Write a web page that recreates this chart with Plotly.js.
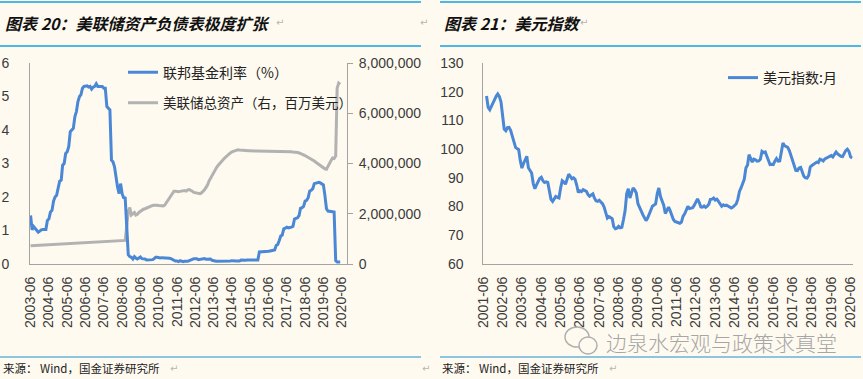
<!DOCTYPE html>
<html>
<head>
<meta charset="utf-8">
<script src="https://cdn.plot.ly/plotly-3.0.1.min.js"></script>
<style>html,body{margin:0;padding:0;background:#fffaf0;}#chart{width:863px;height:379px;}</style>
</head>
<body>
<div id="chart"></div>
<script>
// ---------- Data ----------
// Left chart: monthly, starting 2003-06
const fedStart = [2003, 6];
const fedFundsRate = [
  1.45, 1.02, 1.12, 1.05, 1.00, 0.95, 0.98,
  1.02, 1.03, 1.02, 1.03, 1.30, 1.35, 1.55, 1.60, 1.88, 2.00, 2.05, 2.25,
  2.47, 2.50, 2.95, 3.00, 3.30, 3.35, 3.50, 3.95, 4.00, 4.05, 4.40, 4.55,
  4.85, 5.00, 5.05, 5.25, 5.30, 5.30, 5.32, 5.28, 5.30, 5.22, 5.28, 5.30,
  5.38, 5.30, 5.30, 5.28, 5.30, 5.25, 5.25, 4.70, 4.65, 4.60, 3.10, 3.05,
  2.90, 2.50, 2.30, 2.10, 2.40, 2.10, 1.98, 1.97, 1.20, 0.28, 0.22, 0.20,
  0.15, 0.22, 0.18, 0.15, 0.18, 0.21, 0.16, 0.16, 0.15, 0.12, 0.12, 0.12,
  0.11, 0.13, 0.16, 0.20, 0.20, 0.18, 0.18, 0.19, 0.19, 0.19, 0.19, 0.18,
  0.17, 0.16, 0.14, 0.10, 0.09, 0.09, 0.07, 0.10, 0.08, 0.07, 0.08, 0.07,
  0.08, 0.10, 0.13, 0.14, 0.16, 0.16, 0.16, 0.13, 0.14, 0.16, 0.16, 0.16,
  0.14, 0.15, 0.14, 0.15, 0.11, 0.09, 0.09, 0.08, 0.08, 0.09, 0.08, 0.09,
  0.07, 0.07, 0.08, 0.09, 0.09, 0.10, 0.09, 0.09, 0.09, 0.09, 0.09, 0.12,
  0.11, 0.11, 0.11, 0.12, 0.12, 0.13, 0.13, 0.14, 0.14, 0.12, 0.12, 0.36,
  0.36, 0.38, 0.36, 0.37, 0.37, 0.38, 0.39, 0.40, 0.40, 0.42, 0.55, 0.58,
  0.70, 0.84, 0.86, 1.05, 1.07, 1.10, 1.08, 1.08, 1.10, 1.12, 1.34, 1.36,
  1.38, 1.45, 1.66, 1.68, 1.72, 1.88, 1.90, 1.98, 2.18, 2.20, 2.25, 2.40,
  2.42, 2.42, 2.44, 2.42, 2.40, 2.36, 2.05, 1.65, 1.58, 1.58, 1.57, 1.56,
  1.55, 0.10, 0.06, 0.05, 0.06
];
const fedTotalAssets = [
  730000, 733000, 736000, 740000, 744000, 748000, 752000,
  755000, 758000, 762000, 766000, 770000, 774000, 778000, 782000, 786000, 790000, 794000, 798000,
  801000, 804000, 807000, 810000, 813000, 816000, 819000, 822000, 825000, 828000, 832000, 836000,
  839000, 842000, 845000, 848000, 851000, 854000, 857000, 860000, 863000, 866000, 869000, 872000,
  875000, 878000, 881000, 884000, 887000, 890000, 893000, 896000, 899000, 902000, 905000, 910000,
  915000, 918000, 921000, 925000, 930000, 935000, 938000, 940000, 1500000, 2100000, 2250000, 1950000,
  2000000, 2050000, 1950000, 1980000, 2050000, 2100000, 2150000, 2180000, 2200000, 2230000, 2260000, 2300000,
  2320000, 2330000, 2340000, 2350000, 2340000, 2330000, 2320000, 2300000, 2310000, 2350000, 2450000, 2550000,
  2650000, 2750000, 2850000, 2900000, 2900000, 2880000, 2880000, 2890000, 2900000, 2920000, 2920000, 2900000,
  2950000, 2960000, 2940000, 2900000, 2850000, 2840000, 2830000, 2810000, 2800000, 2830000, 2880000, 2950000,
  3050000, 3150000, 3300000, 3420000, 3550000, 3650000, 3760000, 3850000, 3930000, 4010000, 4080000, 4150000,
  4210000, 4260000, 4320000, 4370000, 4420000, 4460000, 4490000, 4520000, 4540000, 4550000, 4540000, 4530000,
  4530000, 4520000, 4510000, 4510000, 4510000, 4510000, 4500000, 4500000, 4500000, 4500000, 4500000, 4500000,
  4490000, 4490000, 4480000, 4480000, 4480000, 4470000, 4470000, 4470000, 4480000, 4480000, 4480000, 4470000,
  4480000, 4480000, 4490000, 4490000, 4490000, 4490000, 4480000, 4480000, 4470000, 4460000, 4460000, 4450000,
  4440000, 4420000, 4400000, 4370000, 4340000, 4310000, 4280000, 4250000, 4220000, 4190000, 4150000, 4100000,
  4050000, 4000000, 3960000, 3920000, 3880000, 3830000, 3790000, 3770000, 3900000, 4050000, 4120000, 4220000,
  4200000, 4300000, 7000000, 7200000, 7150000
];
// Right chart: monthly, starting 2001-08
const dxyStart = [2001, 8];
const dollarIndex = [
  118.5, 114.5, 113.7, 115.0, 116.1,
  117.5, 118.5, 119.2, 118.3, 116.5, 111.5, 107.0, 106.4, 107.5, 107.6, 106.5, 104.5,
  102.0, 100.6, 100.2, 99.8, 96.0, 93.4, 95.0, 96.5, 97.5, 93.5, 92.3, 91.7,
  88.0, 86.2, 87.5, 89.0, 89.8, 90.2, 89.0, 88.4, 88.6, 88.4, 85.5, 82.5,
  81.8, 83.0, 83.5, 83.2, 83.0, 86.5, 89.0, 88.5, 87.8, 89.5, 91.3, 90.5,
  89.7, 90.0, 89.5, 87.5, 84.9, 85.5, 85.2, 85.9, 85.7, 85.3, 84.2, 83.6,
  84.0, 84.4, 83.0, 82.0, 81.8, 82.2, 81.6, 81.0, 79.8, 78.0, 76.0, 76.5,
  76.2, 75.8, 73.0, 72.3, 72.5, 73.1, 72.6, 72.8, 75.5, 78.5, 84.5, 86.2,
  83.0, 85.0, 86.5, 85.8, 84.7, 81.0, 79.5, 78.5, 77.2, 76.0, 75.1, 76.0,
  77.2, 78.8, 80.1, 80.4, 80.9, 84.5, 86.5, 83.5, 81.8, 80.5, 77.6, 78.8,
  79.8, 78.5, 77.0, 75.5, 74.8, 74.6, 74.5, 74.2, 74.6, 76.6, 77.5, 78.8,
  80.1, 79.3, 79.4, 79.6, 80.5, 81.8, 82.7, 81.5, 79.9, 79.8, 80.2, 79.7,
  80.1, 80.9, 82.5, 82.6, 83.0, 82.3, 82.6, 81.8, 80.9, 80.1, 80.6, 80.3,
  80.5, 80.1, 79.8, 79.5, 79.8, 80.5, 80.9, 82.5, 85.3, 86.5, 88.0, 89.5,
  93.4, 94.5, 98.1, 97.0, 95.5, 96.5, 96.3, 95.8, 95.9, 96.5, 99.2, 98.8,
  99.0, 97.5, 96.0, 94.6, 94.7, 94.6, 95.8, 96.7, 95.8, 95.9, 99.0, 102.1,
  101.2, 100.8, 100.6, 99.5, 97.8, 96.3, 94.5, 92.6, 92.5, 93.4, 93.6, 92.3,
  90.5, 90.0, 89.9, 90.8, 93.8, 94.3, 94.6, 95.0, 95.5, 95.3, 96.5, 96.3,
  95.9, 96.6, 96.9, 97.1, 97.6, 97.8, 97.3, 98.2, 99.0, 98.3, 97.8, 97.5,
  97.4, 98.6, 99.5, 100.0, 99.2, 97.3, 96.9
];
const seriesNames = ['联邦基金利率（%）', '美联储总资产（右，百万美元）', '美元指数:月'];
const titles = ['图表 20：美联储资产负债表极度扩张', '图表 21：美元指数'];
const sourceText = '来源： Wind，国金证券研究所';
const watermark = '边泉水宏观与政策求真堂';

// ---------- helpers ----------
function monthDates(start, n) {
  const out = [];
  let y = start[0], m = start[1];
  for (let i = 0; i < n; i++) {
    out.push(y + '-' + String(m).padStart(2, '0') + '-01');
    m++; if (m > 12) { m = 1; y++; }
  }
  return out;
}
const fedDates = monthDates(fedStart, fedFundsRate.length);
const dxyDates = monthDates(dxyStart, dollarIndex.length);

const W = 863, H = 379;
const px = v => v / W;
const py = v => (H - v) / H;

const BLUE = '#4a88d6', GRAY = '#b2b2b2', AXIS = '#a3a3a3', CYAN = '#12a0e3';
const NUMFONT = 'Liberation Sans, Arial, sans-serif';
const CJK = 'Noto Sans CJK SC, sans-serif';

const traces = [
  { x: fedDates, y: fedTotalAssets, name: seriesNames[1], type: 'scatter', mode: 'lines',
    line: { color: GRAY, width: 3 }, xaxis: 'x', yaxis: 'y', legend: 'legend2', hoverinfo: 'skip' },
  { x: fedDates, y: fedFundsRate, name: seriesNames[0], type: 'scatter', mode: 'lines',
    line: { color: BLUE, width: 3 }, xaxis: 'x', yaxis: 'y2', legend: 'legend', hoverinfo: 'skip' },
  { x: dxyDates, y: dollarIndex, name: seriesNames[2], type: 'scatter', mode: 'lines',
    line: { color: BLUE, width: 3 }, xaxis: 'x2', yaxis: 'y3', legend: 'legend3', hoverinfo: 'skip' }
];

const yDom = [py(264), py(63)];
const baseAxis = { showgrid: false, zeroline: false, showline: true, linecolor: AXIS, linewidth: 1,
  tickfont: { family: NUMFONT, size: 14, color: '#3a3a3a' } };

const legendBase = { bgcolor: 'rgba(0,0,0,0)', borderwidth: 0, xanchor: 'left', yanchor: 'middle',
  font: { family: CJK, size: 14, color: '#222' } };

function line(x0, x1, y, color, w) {
  return { type: 'line', xref: 'paper', yref: 'paper', x0: px(x0), x1: px(x1), y0: py(y), y1: py(y),
    line: { color: color, width: w } };
}
function ann(text, x, y, font, anchor) {
  return { text: text, x: px(x), y: py(y), xref: 'paper', yref: 'paper', showarrow: false,
    xanchor: anchor || 'left', yanchor: 'middle', font: font };
}

const titleFont = { family: CJK, size: 16, color: '#111', weight: 700, style: 'italic' };
const srcFont = { family: CJK, size: 11.5, color: '#222' };
const retFont = { family: 'DejaVu Sans', size: 10, color: '#b5b5b5' };

const layout = {
  width: W, height: H,
  margin: { l: 0, r: 0, t: 0, b: 0 },
  paper_bgcolor: '#fffaf0', plot_bgcolor: 'rgba(0,0,0,0)',
  showlegend: true,
  xaxis: Object.assign({}, baseAxis, {
    domain: [px(30), px(347)], anchor: 'y', type: 'date',
    range: ['2003-05-20', '2020-09-14'], tick0: '2003-06-01', dtick: 'M12', tickformat: '%Y-%m',
    tickangle: -90, ticks: '', ticklabelstandoff: 6 }),
  yaxis: Object.assign({}, baseAxis, {
    domain: yDom, anchor: 'x', side: 'right', range: [0, 8000000], dtick: 2000000, tickformat: ',d',
    ticks: 'outside', ticklen: 5, tickcolor: AXIS, ticklabelstandoff: 3 }),
  yaxis2: Object.assign({}, baseAxis, {
    overlaying: 'y', anchor: 'x', side: 'left', range: [0, 6], dtick: 1, ticks: '', ticklabelstandoff: 17 }),
  xaxis2: Object.assign({}, baseAxis, {
    domain: [px(483.3), px(852.7)], anchor: 'y3', type: 'date',
    range: ['2001-06-01', '2020-07-11'], tick0: '2001-06-01', dtick: 'M12', tickformat: '%Y-%m',
    tickangle: -90, ticks: '', ticklabelstandoff: 6 }),
  yaxis3: Object.assign({}, baseAxis, {
    domain: yDom, anchor: 'x2', range: [60, 130], dtick: 10, ticks: '', ticklabelstandoff: 16 }),
  legend: Object.assign({}, legendBase, { x: px(123), y: py(72.7) }),
  legend2: Object.assign({}, legendBase, { x: px(123), y: py(103), font: { family: CJK, size: 13.5, color: '#222' } }),
  legend3: Object.assign({}, legendBase, { x: px(723), y: py(78) }),
  shapes: [
    line(0, 421, 2, CYAN, 1.5), line(0, 421, 46, CYAN, 1.5), line(0, 421, 357, '#1d8fd0', 1.2),
    line(440, 861, 2, CYAN, 1.5), line(440, 861, 46, CYAN, 1.5), line(440, 861, 357, '#1d8fd0', 1.2),
    { type: 'circle', xref: 'paper', yref: 'paper', x0: px(565), x1: px(589), y0: py(347), y1: py(327),
      line: { color: '#b0b0b0', width: 1.5 } },
    { type: 'circle', xref: 'paper', yref: 'paper', x0: px(579), x1: px(597), y0: py(354), y1: py(337),
      line: { color: '#b0b0b0', width: 1.5 }, fillcolor: '#fffaf0' }
  ],
  annotations: [
    ann(titles[0], 3, 23, titleFont),
    ann('↵', 274, 23, retFont), ann('↵', 418, 23, retFont),
    ann(titles[1], 442, 23, titleFont),
    ann('↵', 578, 22, retFont),
    ann(sourceText, 1, 368, srcFont),
    ann('↵', 168, 368, retFont), ann('↵', 420, 368, retFont),
    ann(sourceText, 440, 368, srcFont),
    ann('↵', 607, 368, retFont),
    ann(watermark, 604, 342, { family: CJK, size: 21, color: '#a6a6a6', weight: 300 })
  ]
};

Plotly.newPlot('chart', traces, layout, { displayModeBar: false, staticPlot: true });
</script>
</body>
</html>
